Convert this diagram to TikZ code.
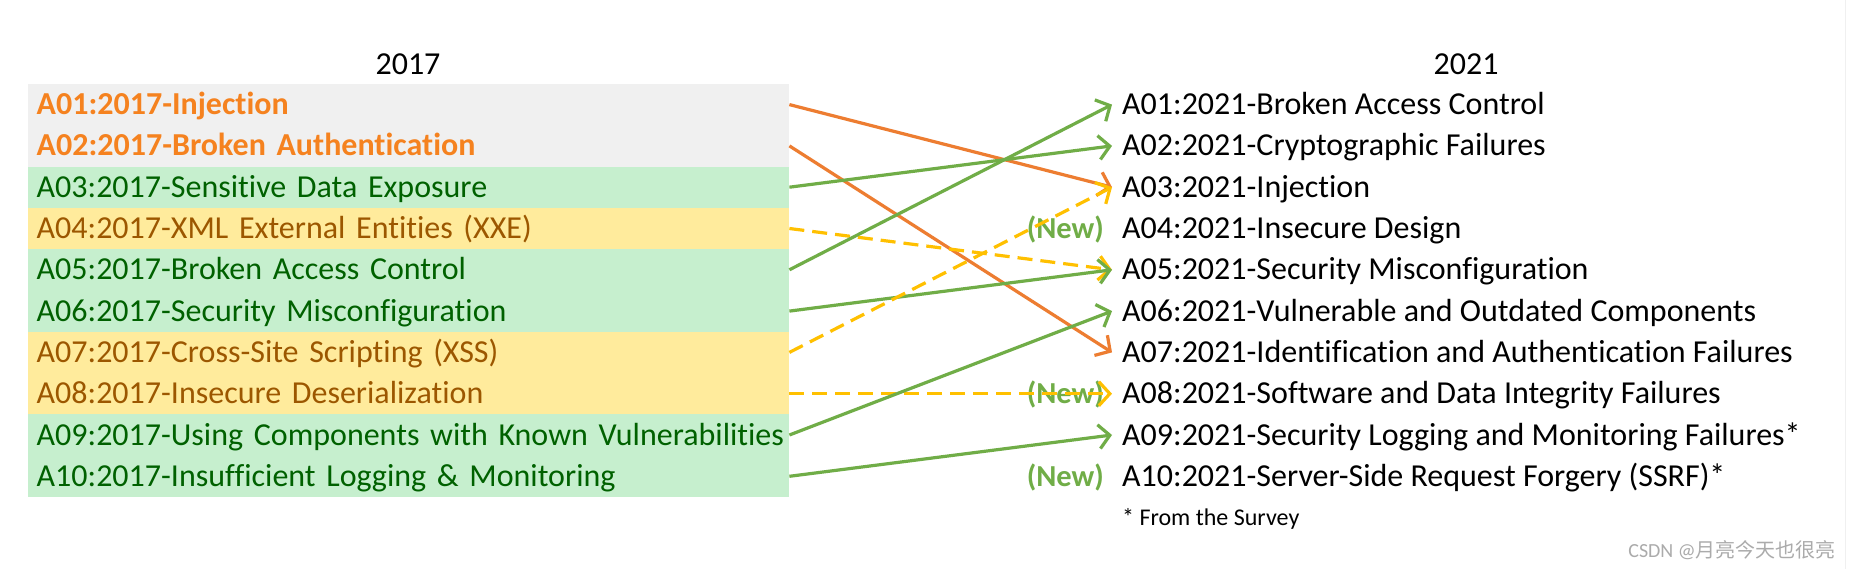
\documentclass[tikz,border=0pt]{standalone}
\usepackage{fontspec}
\setmainfont{Carlito}[Ligatures={NoCommon,NoContextual}]
\newfontfamily\cjk{Noto Sans CJK SC}
\usetikzlibrary{arrows.meta}
\definecolor{rowgray}{HTML}{F0F0F0}
\definecolor{rowgreen}{HTML}{C6EFCE}
\definecolor{rowyellow}{HTML}{FFEB9C}
\definecolor{txtgreen}{HTML}{006100}
\definecolor{txtbrown}{HTML}{9C5700}
\definecolor{txtorange}{HTML}{F5821F}
\definecolor{arrorange}{HTML}{ED7D31}
\definecolor{arrgreen}{HTML}{70AD47}
\definecolor{arryellow}{HTML}{FFC000}
\definecolor{wmark}{HTML}{ABABAB}
\begin{document}
\begin{tikzpicture}[x=1pt,y=-1pt,
  big/.style={font=\fontsize{32}{38}\selectfont},
  cell/.style={big, anchor=west, minimum width=761pt, minimum height=41.3pt,
    text width=744pt, inner xsep=8.5pt, inner ysep=0pt, align=left,
    text height=27pt, text depth=7pt},
  gcell/.style={cell, fill=rowgray, text=txtorange, font=\fontsize{32}{38}\selectfont\bfseries},
  okcell/.style={cell, fill=rowgreen, text=txtgreen},
  ycell/.style={cell, fill=rowyellow, text=txtbrown},
  rcell/.style={big, anchor=west, inner xsep=10pt, inner ysep=0pt,
    text height=27pt, text depth=7pt},
  newtag/.style={anchor=east, inner sep=0pt, text=arrgreen,
    font=\fontsize{30.5}{36}\selectfont\bfseries, text height=26pt, text depth=6.6pt},
  title/.style={big, inner sep=0pt, text height=27pt, text depth=7pt},
  arr/.style={line width=3.2pt, -{Straight Barb[length=11pt,width=24pt]}},
  oarr/.style={arr, draw=arrorange},
  garr/.style={arr, draw=arrgreen},
  yarr/.style={arr, draw=arryellow, dash pattern=on 15pt off 8pt}
]
\useasboundingbox (0,0) rectangle (1850,569);
\fill[white] (0,0) rectangle (1850,569);
\draw[gray!12, line width=1pt] (1845,0) -- (1845,569);

\node[title] (t17) at (408,65) {2017};
\node[title] (t21) at (1466,65) {2021};

% left column
\node[gcell]  (l1)  at (28,104.6) {A01:2017-Injection};
\node[gcell]  (l2)  at (28,145.9) {A02:2017-Broken Authentication};
\node[okcell] (l3)  at (28,187.2) {A03:2017-Sensitive Data Exposure};
\node[ycell]  (l4)  at (28,228.5) {A04:2017-XML External Entities (XXE)};
\node[okcell] (l5)  at (28,269.8) {A05:2017-Broken Access Control};
\node[okcell] (l6)  at (28,311.1) {A06:2017-Security Misconfiguration};
\node[ycell]  (l7)  at (28,352.4) {A07:2017-Cross-Site Scripting (XSS)};
\node[ycell]  (l8)  at (28,393.7) {A08:2017-Insecure Deserialization};
\node[okcell] (l9)  at (28,435.0) {\mbox{A09:2017-Using Components with Known Vulnerabilities}};
\node[okcell] (l10) at (28,476.3) {A10:2017-Insufficient Logging \& Monitoring};

% right column
\node[rcell] (r1)  at (1112,104.6) {A01:2021-Broken Access Control};
\node[rcell] (r2)  at (1112,145.9) {A02:2021-Cryptographic Failures};
\node[rcell] (r3)  at (1112,187.2) {A03:2021-Injection};
\node[rcell] (r4)  at (1112,228.5) {A04:2021-Insecure Design};
\node[rcell] (r5)  at (1112,269.8) {A05:2021-Security Misconfiguration};
\node[rcell] (r6)  at (1112,311.1) {A06:2021-Vulnerable and Outdated Components};
\node[rcell] (r7)  at (1112,352.4) {A07:2021-Identification and Authentication Failures};
\node[rcell] (r8)  at (1112,393.7) {A08:2021-Software and Data Integrity Failures};
\node[rcell] (r9)  at (1112,435.0) {A09:2021-Security Logging and Monitoring Failures*};
\node[rcell] (r10) at (1112,476.3) {A10:2021-Server-Side Request Forgery (SSRF)*};

\node[newtag] (n4)  at (1104,228.5) {(New)};
\node[newtag] (n8)  at (1104,393.7) {(New)};
\node[newtag] (n10) at (1104,476.3) {(New)};

\node[anchor=west, inner xsep=0pt, font=\fontsize{24}{28}\selectfont] (foot) at (1122,519) {* From the Survey};
\node[anchor=east, inner sep=0pt, text=wmark, font=\fontsize{20}{24}\selectfont] (wm) at (1836,550) {CSDN @{\cjk 月亮今天也很亮}};

% connectors
\draw[oarr] (l1.east) -- (r3.west);
\draw[oarr] (l2.east) -- (r7.west);
\draw[garr] (l3.east) -- (r2.west);
\draw[yarr] (l4.east) -- (r5.west);
\draw[garr] (l5.east) -- (r1.west);
\draw[garr] (l6.east) -- (r5.west);
\draw[yarr] (l7.east) -- (r3.west);
\draw[yarr] (l8.east) -- (r8.west);
\draw[garr] (l9.east) -- (r6.west);
\draw[garr] (l10.east) -- (r9.west);
\end{tikzpicture}
\end{document}
